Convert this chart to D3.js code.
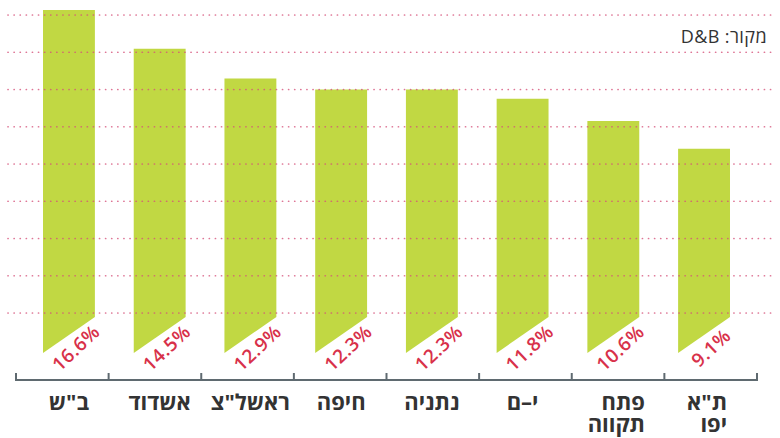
<!DOCTYPE html>
<html>
<head>
<meta charset="utf-8">
<script src="https://cdn.jsdelivr.net/npm/d3@7"></script>
<style>
  body { margin: 0; background: #fff; }
  svg { display: block; }
</style>
</head>
<body>
<div id="chart"></div>
<script>
// data, in reading order (RTL -> shown left to right here)
var cities = ["ב\"ש", "אשדוד", "ראשל\"צ", "חיפה", "נתניה", "י–ם", "פתח תקווה", "ת\"א יפו"];
var cityLines = [["ב\"ש"], ["אשדוד"], ["ראשל\"צ"], ["חיפה"], ["נתניה"], ["י–ם"], ["פתח", "תקווה"], ["ת\"א", "יפו"]];
var shares = [16.6, 14.5, 12.9, 12.3, 12.3, 11.8, 10.6, 9.1];
var gridSteps = [0, 1, 2, 3, 4, 5, 6, 7, 8];
var sourceText = "מקור: D&B";

var width = 780, height = 438;
var barColor = "#c1d843", labelRed = "#d8314a", axisColor = "#5f6a70";

var svg = d3.select("#chart").append("svg")
  .attr("width", width)
  .attr("height", height);

// band for the axis groups and a slightly tighter one for the bars
var xAxisBand = d3.scaleBand().domain(cities).range([16, 757]);
var xBar = d3.scaleBand().domain(cities).range([43, 730]).paddingInner(0.428).paddingOuter(0);
var y = d3.scaleLinear().domain([0, 16.6]).range([317, 10]);
var gridY = d3.scaleLinear().domain([0, 8]).range([313, 15]);

var flagDrop = 36;   // how far the left edge of a bar runs below zero

// bars with the slanted bottom
svg.append("g").selectAll("path")
  .data(shares)
  .enter().append("path")
  .attr("fill", barColor)
  .attr("d", function (d, i) {
    var x0 = xBar(cities[i]), x1 = x0 + xBar.bandwidth();
    return "M" + x0 + "," + y(d) + "L" + x1 + "," + y(d) +
      "L" + x1 + "," + y(0) + "L" + x0 + "," + (y(0) + flagDrop) + "Z";
  });

// dotted grid on top of bars
svg.append("g").selectAll("line")
  .data(gridSteps)
  .enter().append("line")
  .attr("x1", 8).attr("x2", 775)
  .attr("y1", function (d) { return gridY(d); })
  .attr("y2", function (d) { return gridY(d); })
  .attr("stroke", "#d6537a")
  .attr("stroke-opacity", 0.8)
  .attr("stroke-width", 1.7)
  .attr("stroke-linecap", "round")
  .attr("stroke-dasharray", "0.1 6");

// percentages in the white notch under each bar, centred on the notch
svg.append("g").selectAll("text")
  .data(shares)
  .enter().append("text")
  .attr("transform", function (d, i) {
    var x1 = xBar(cities[i]) + xBar.bandwidth();
    return "translate(" + (x1 - 19) + "," + (y(0) + 31) + ") rotate(-43)";
  })
  .attr("text-anchor", "middle")
  .attr("dy", "0.35em")
  .attr("font-family", "'Open Sans', 'DejaVu Sans', sans-serif")
  .attr("font-weight", 600)
  .attr("font-size", 19)
  .attr("letter-spacing", 0.5)
  .attr("fill", labelRed)
  .text(function (d) { return d.toFixed(1) + "%"; });

// axis line with group separators
var axisY = 380, tickLen = 7;
var bounds = cities.map(function (c) { return xAxisBand(c); }).concat([xAxisBand.range()[1]]);
var axisG = svg.append("g")
  .attr("stroke", axisColor)
  .attr("stroke-width", 2)
  .attr("fill", "none");
axisG.append("line")
  .attr("x1", bounds[0]).attr("x2", bounds[bounds.length - 1])
  .attr("y1", axisY).attr("y2", axisY);
axisG.selectAll("line.tick")
  .data(bounds)
  .enter().append("line")
  .attr("class", "tick")
  .attr("x1", function (d) { return d; })
  .attr("x2", function (d) { return d; })
  .attr("y1", axisY + 1).attr("y2", axisY - tickLen);

// city names, two-line ones right aligned inside one text block
var labelG = svg.append("g")
  .attr("font-family", "'Open Sans', 'DejaVu Sans', sans-serif")
  .attr("font-size", 22)
  .attr("font-weight", 700)
  .attr("fill", "#333");

cityLines.forEach(function (lines, i) {
  var cx = xBar(cities[i]) + xBar.bandwidth() / 2;
  var t = labelG.append("text")
    .attr("direction", "rtl")
    .attr("text-anchor", "middle");
  var spans = lines.map(function (line, j) {
    return t.append("tspan")
      .attr("x", cx)
      .attr("y", 410 + j * 22)
      .text(line);
  });
  if (lines.length > 1) {
    var widths = spans.map(function (s) { return s.node().getComputedTextLength(); });
    var right = cx + 3 + d3.max(widths) / 2;
    spans.forEach(function (s, j) { s.attr("x", right - widths[j] / 2); });
  }
});

// source note
svg.append("text")
  .attr("x", 767)
  .attr("y", 43)
  .attr("direction", "rtl")
  .attr("text-anchor", "start")
  .attr("font-family", "'Open Sans', 'DejaVu Sans', sans-serif")
  .attr("font-size", 18)
  .attr("letter-spacing", 0.4)
  .attr("fill", "#333")
  .text(sourceText);
</script>
</body>
</html>
